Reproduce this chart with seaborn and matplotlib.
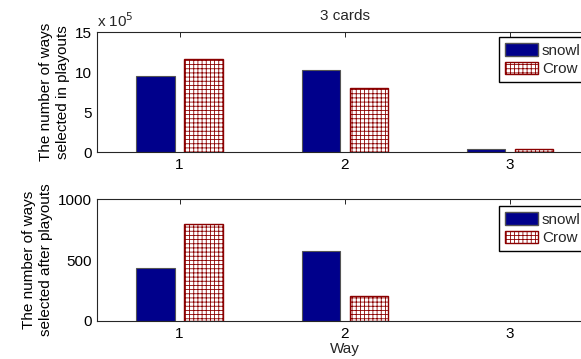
import matplotlib
matplotlib.use("Agg")
import matplotlib.pyplot as plt
import seaborn as sns
import pandas as pd
from matplotlib.patches import Patch
from matplotlib.ticker import FuncFormatter

# ---- data ----
ways = ["1", "2", "3"]
methods = ["snowl", "Crow"]
scale = 1e5
in_playouts_snowl = [950000, 1025000, 40000]
in_playouts_crow = [1160000, 805000, 40000]
after_playouts_snowl = [432, 574, 0]
after_playouts_crow = [797, 205, 0]
top_yticks = [0, 5, 10, 15]
bottom_yticks = [0, 500, 1000]
title = "3 cards"
top_ylabel = "The number of ways\nselected in playouts"
bottom_ylabel = "The number of ways\nselected after playouts"
xlabel = "Way"

FS = 11

sns.set_theme(style="white")
plt.rcParams["font.family"] = ["Liberation Sans", "DejaVu Sans"]
plt.rcParams["font.size"] = FS
plt.rcParams["hatch.linewidth"] = 0.6

BLUE = "#00008B"
RED = "#8B0000"
AX = "#262626"

W, H = 581, 359
fig = plt.figure(figsize=(W / 100, H / 100), dpi=100)
left = 97 / W
width = (592.5 - 97) / W
ax1 = fig.add_axes([left, 1 - 152.3 / H, width, 120.3 / H])
ax2 = fig.add_axes([left, 1 - 321 / H, width, 122 / H])


def make_df(a, b):
    rows = []
    for w, v in zip(ways, a):
        rows.append({"way": w, "method": methods[0], "value": v})
    for w, v in zip(ways, b):
        rows.append({"way": w, "method": methods[1], "value": v})
    return pd.DataFrame(rows)


df1 = make_df(in_playouts_snowl, in_playouts_crow)
df1["value"] = df1["value"] / scale
df2 = make_df(after_playouts_snowl, after_playouts_crow)

for ax, df, yt, yl in [(ax1, df1, top_yticks, top_ylabel), (ax2, df2, bottom_yticks, bottom_ylabel)]:
    sns.barplot(data=df, x="way", y="value", hue="method", hue_order=methods,
                order=ways, ax=ax, palette=[BLUE, "white"], width=0.58, gap=0.2,
                saturation=1, legend=False, errorbar=None)
    for p in ax.containers[0]:
        p.set_facecolor(BLUE)
        p.set_edgecolor("#555555")
        p.set_linewidth(0.8)
    for p in ax.containers[1]:
        p.set_facecolor("white")
        p.set_edgecolor(RED)
        p.set_hatch("++++")
        p.set_linewidth(1.0)
    for c in ax.containers:
        for p in c:
            if p.get_height() == 0:
                p.set_visible(False)
    ax.set_xlim(-0.5, 2.5)
    ax.set_ylim(yt[0], yt[-1])
    ax.set_yticks(yt)
    ax.set_ylabel(yl, fontsize=FS, color="black", labelpad=3, linespacing=1.3)
    ax.set_xlabel("")
    for s in ax.spines.values():
        s.set_color(AX)
        s.set_linewidth(0.8)
    ax.tick_params(direction="in", length=3.5, width=0.7, color=AX,
                   labelsize=FS, labelcolor="black", top=True, right=True,
                   pad=4)
    handles = [Patch(facecolor=BLUE, edgecolor="#555555", label=methods[0]),
               Patch(facecolor="white", edgecolor=RED, hatch="++++", label=methods[1])]
    ax.legend(handles=handles, loc="upper left",
              bbox_to_anchor=(499 / W, (1 - 37 / H) if ax is ax1 else (1 - 206 / H)),
              bbox_transform=fig.transFigure, frameon=True, fancybox=False,
              edgecolor="black", framealpha=1, fontsize=FS, handlelength=2.15,
              handleheight=0.9, handletextpad=0.25, borderpad=0.4,
              labelspacing=0.25, borderaxespad=0)

ax1.set_xticklabels(ways)
ax2.set_xticklabels(ways)
ax1.yaxis.set_major_formatter(FuncFormatter(lambda v, p: f"{v:g}"))
ax1.text(0.0, 1.02, r"x 10$^5$", transform=ax1.transAxes, fontsize=FS,
         ha="left", va="bottom")
ax1.set_title(title, fontsize=FS, pad=9)
ax2.set_xlabel(xlabel, fontsize=FS, labelpad=1)

fig.savefig("out.png", dpi=100)
